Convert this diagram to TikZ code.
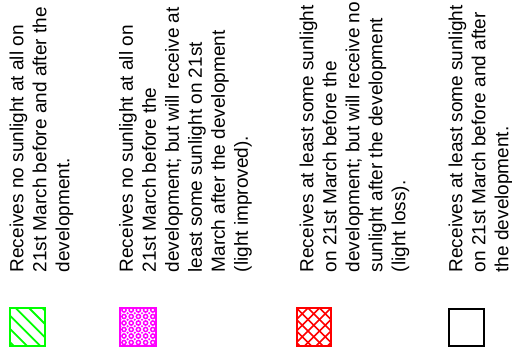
\documentclass[tikz,border=0pt]{standalone}
\usepackage{fontspec}
\setmainfont{Liberation Sans}
\definecolor{hgreen}{RGB}{0,255,0}
\definecolor{hmag}{RGB}{255,0,255}
\definecolor{hred}{RGB}{255,0,0}
\begin{document}
\begin{tikzpicture}[x=1pt,y=1pt,
  legtext/.style={rotate=90, anchor=north west, inner sep=0pt, align=left,
    font=\fontsize{19}{23}\selectfont},
  swatch/.style={line width=2pt, minimum width=35pt, minimum height=38pt,
    inner sep=0pt, anchor=south west}]
\useasboundingbox (0,0) rectangle (512,361);

% texts
\node[legtext] (t1) at (9.5,88.5) {Receives no sunlight at all on\\21st March before and after the\\development.};
\node[legtext] (t2) at (119,88.5) {Receives no sunlight at all on\\21st March before the\\development; but will receive at\\least some sunlight on 21st\\March after the development\\(light improved).};
\node[legtext] (t3) at (299.5,88.5) {Receives at least some sunlight\\on 21st March before the\\development; but will receive no\\sunlight after the development\\(light loss).};
\node[legtext] (t4) at (448.5,88.5) {Receives at least some sunlight\\on 21st March before and after\\the development.};

% swatches
\node[swatch, draw=hgreen, path picture={
  \foreach \c in {-32.7,-19.4,-6.1,7.2,20.5,33.8}
    \draw[hgreen, line width=1.8pt]
      ([shift={(\c-30,30)}]path picture bounding box.center) --
      ([shift={(\c+30,-30)}]path picture bounding box.center);
}] (s1) at (9,14) {};

\node[swatch, draw=hmag, minimum width=36pt, path picture={
  \foreach \i in {0,...,4}
    \foreach \j in {0,...,5}
      \draw[hmag, line width=1.5pt]
        ([shift={(4+7.2*\i,3.5+6.5*\j)}]path picture bounding box.south west) circle (2.1pt);
  \foreach \i in {0,...,5}
    \foreach \j in {0,...,6}
      \fill[hmag]
        ([shift={(0.4+7.2*\i,0.25+6.5*\j)}]path picture bounding box.south west) circle (1.2pt);
}] (s2) at (119,14) {};

\node[swatch, draw=hred, minimum width=34pt, path picture={
  \foreach \k in {-4,...,4} {
    \draw[hred, line width=1.6pt]
      ([shift={(13+11.5*\k-30,30)}]path picture bounding box.center) --
      ([shift={(13+11.5*\k+30,-30)}]path picture bounding box.center);
    \draw[hred, line width=1.6pt]
      ([shift={(-30,2+11.5*\k-30)}]path picture bounding box.center) --
      ([shift={(30,2+11.5*\k+30)}]path picture bounding box.center);
  }
}] (s3) at (296,14) {};

\node[swatch, draw=black, minimum height=37pt] (s4) at (448,14) {};
\end{tikzpicture}
\end{document}
